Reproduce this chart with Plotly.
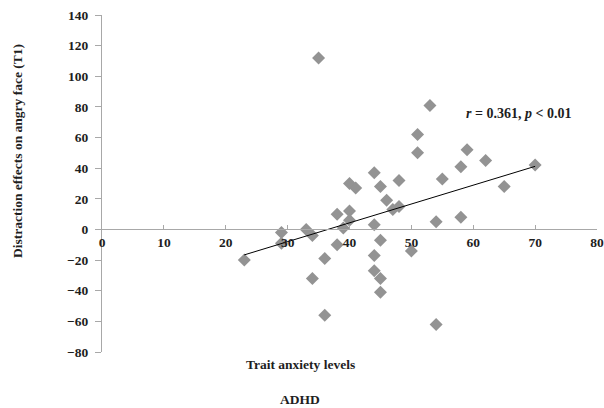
import plotly.graph_objects as go

trait_anxiety = [35, 53, 51, 51, 59, 62, 58, 70, 55, 65, 44, 40, 41, 45, 48, 46, 47, 48,
                 40, 38, 40, 39, 44, 54, 58, 45, 38, 29, 29, 33, 34, 23, 36, 34, 44, 44,
                 45, 45, 36, 50, 54]
distraction = [112, 81, 62, 50, 52, 45, 41, 42, 33, 28, 37, 30, 27, 28, 32, 19, 13, 15,
               12, 10, 6, 1, 3, 5, 8, -7, -10, -2, -9, 0, -4, -20, -19, -32, -17, -27,
               -32, -41, -56, -14, -62]

# linear trend line endpoints (as drawn in the reference)
fit_x = [23, 70]
fit_y = [-16.6, 41.2]

x_ticks = [0, 10, 20, 30, 40, 50, 60, 70, 80]
y_ticks = [140, 120, 100, 80, 60, 40, 20, 0, -20, -40, -60, -80]

font_family = "Liberation Serif, Times New Roman, serif"
txt = "#1e1e1e"
axis_col = "#a8a8a8"

fig = go.Figure()
fig.add_trace(go.Scatter(
    x=trait_anxiety, y=distraction, mode="markers",
    marker=dict(symbol="diamond", size=10, color="#939393"),
    showlegend=False))
fig.add_trace(go.Scatter(
    x=fit_x, y=fit_y, mode="lines",
    line=dict(color="black", width=1), showlegend=False))

y_min, y_max = -80, 140
zero_pos = (0 - y_min) / (y_max - y_min)

fig.update_layout(
    width=604, height=408,
    margin=dict(l=102, r=7, t=15, b=56),
    paper_bgcolor="white", plot_bgcolor="white",
    font=dict(family=font_family, color=txt),
    xaxis=dict(range=[0, 80], tickvals=x_ticks, showgrid=False, zeroline=False,
               showline=True, linecolor=axis_col, linewidth=1,
               ticks="inside", ticklen=4, tickcolor=axis_col,
               anchor="free", position=zero_pos, automargin=False,
               tickfont=dict(family=font_family, size=13.5, weight="bold", color=txt)),
    yaxis=dict(range=[y_min, y_max], tickvals=y_ticks, showgrid=False, zeroline=False,
               showline=True, linecolor=axis_col, linewidth=1,
               ticks="outside", ticklen=6, tickcolor=axis_col, automargin=False,
               ticklabelstandoff=4,
               tickfont=dict(family=font_family, size=13.5, weight="bold", color=txt)),
    annotations=[
        dict(x=67.3, y=76, xref="x", yref="y", showarrow=False,
             text="<i>r</i> = 0.361, <i>p</i> < 0.01",
             font=dict(family=font_family, size=14, weight="bold", color=txt)),
        dict(x=(18 - 102) / 495, y=(352 - 151) / 337, xref="paper", yref="paper",
             showarrow=False, textangle=-90, xanchor="center", yanchor="middle",
             text="Distraction effects on angry face (T1)",
             font=dict(family=font_family, size=13.5, weight="bold", color=txt)),
        dict(x=0.4, y=-0.01, xref="paper", yref="paper", showarrow=False,
             yanchor="top", text="Trait anxiety levels",
             font=dict(family=font_family, size=13.5, weight="bold", color=txt)),
        dict(x=0.4, y=-0.112, xref="paper", yref="paper", showarrow=False,
             yanchor="top", text="ADHD",
             font=dict(family=font_family, size=13.5, weight="bold", color=txt)),
    ],
)

fig.write_html("out.html")
